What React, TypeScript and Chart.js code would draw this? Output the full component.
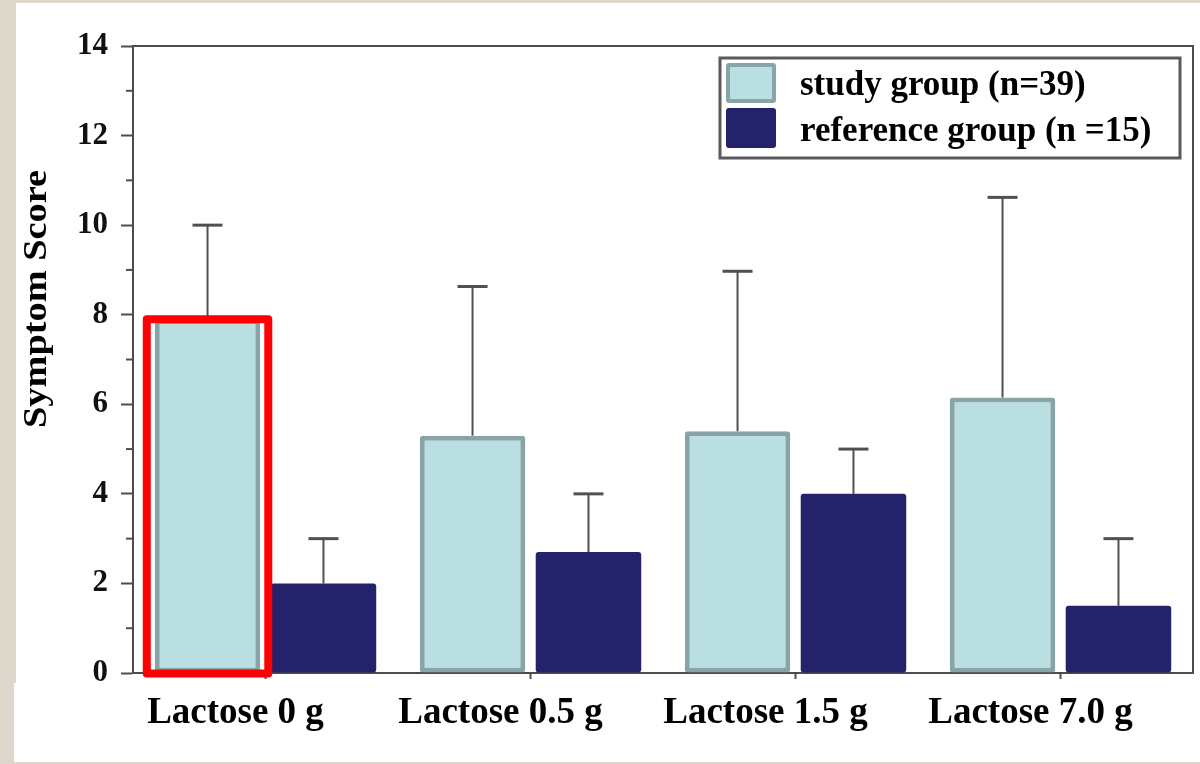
import { useEffect, useRef } from "react";
import { Chart, registerables } from "chart.js";

Chart.register(...registerables);

// Lactose dose groups on the x axis
const categories = ["Lactose 0 g", "Lactose 0.5 g", "Lactose 1.5 g", "Lactose 7.0 g"];

// Mean symptom scores and their standard deviations (upper whisker only)
const studyMeans = [7.9, 5.3, 5.4, 6.15];
const studySD = [2.1, 3.33, 3.57, 4.47];
const referenceMeans = [2.0, 2.7, 4.0, 1.5];
const referenceSD = [1.0, 1.3, 1.0, 1.5];

const seriesLabels = ["study group (n=39)", "reference group (n =15)"];
const yAxisTitle = "Symptom Score";
const yMin = 0;
const yMax = 14;
const highlightedIndex = 0;

const SERIF = "'Liberation Serif', 'Times New Roman', Times, serif";
const AXIS = "#4d4d4d";
const STUDY_FILL = "#b9dfe2";
const STUDY_EDGE = "#88a4a7";
const REF_FILL = "#23226a";

const means = [studyMeans, referenceMeans];
const sds = [studySD, referenceSD];

// upper error whiskers
const errorBars = {
  id: "errorBars",
  afterDatasetsDraw(chart: any) {
    const { ctx } = chart;
    const yScale = chart.scales.y;
    ctx.save();
    ctx.strokeStyle = "#505050";
    means.forEach((series, d) => {
      const meta = chart.getDatasetMeta(d);
      meta.data.forEach((bar: any, i: number) => {
        const { x, y } = bar.getProps(["x", "y"], true);
        const top = yScale.getPixelForValue(series[i] + sds[d][i]);
        ctx.lineWidth = 2;
        ctx.beginPath();
        ctx.moveTo(x, y);
        ctx.lineTo(x, top);
        ctx.stroke();
        ctx.lineWidth = 3;
        ctx.beginPath();
        ctx.moveTo(x - 15, top);
        ctx.lineTo(x + 15, top);
        ctx.stroke();
      });
    });
    ctx.restore();
  },
};

// frame, minor ticks, highlight, legend and rotated axis title
const decorations = {
  id: "decorations",
  afterDraw(chart: any) {
    const { ctx, chartArea } = chart;
    const { left, right, top, bottom } = chartArea;
    const yScale = chart.scales.y;
    ctx.save();

    // top and right frame lines
    ctx.strokeStyle = AXIS;
    ctx.lineWidth = 2;
    ctx.beginPath();
    ctx.moveTo(left, top);
    ctx.lineTo(right, top);
    ctx.lineTo(right, bottom);
    ctx.stroke();

    // minor ticks on odd values
    ctx.lineWidth = 2;
    for (let v = yMin + 1; v < yMax; v += 2) {
      const py = yScale.getPixelForValue(v);
      ctx.beginPath();
      ctx.moveTo(left - 7, py);
      ctx.lineTo(left, py);
      ctx.stroke();
    }

    // red outline around the highlighted study bar
    const bar: any = chart.getDatasetMeta(0).data[highlightedIndex];
    if (bar) {
      const { x, y, base, width } = bar.getProps(["x", "y", "base", "width"], true);
      ctx.strokeStyle = "#ff0000";
      ctx.lineWidth = 8;
      ctx.lineJoin = "round";
      ctx.beginPath();
      ctx.rect(x - width / 2 - 8, y, width + 16, base + 1 - y);
      ctx.stroke();
    }

    // legend box
    const bw = 460;
    const bh = 100;
    const bx = right - 13 - bw;
    const by = top + 12;
    ctx.lineJoin = "miter";
    ctx.strokeStyle = "#5a5a5a";
    ctx.lineWidth = 3;
    ctx.strokeRect(bx, by, bw, bh);

    const sx = bx + 6;
    ctx.fillStyle = STUDY_EDGE;
    ctx.beginPath();
    ctx.roundRect(sx, by + 5, 50, 40, 3);
    ctx.fill();
    ctx.fillStyle = STUDY_FILL;
    ctx.fillRect(sx + 4, by + 9, 42, 32);
    ctx.fillStyle = REF_FILL;
    ctx.beginPath();
    ctx.roundRect(sx, by + 50, 50, 40, 3);
    ctx.fill();

    ctx.fillStyle = "#000";
    ctx.font = `bold 35px ${SERIF}`;
    ctx.textAlign = "left";
    ctx.textBaseline = "alphabetic";
    ctx.fillText(seriesLabels[0], bx + 80, by + 37);
    ctx.fillText(seriesLabels[1], bx + 80, by + 83);

    // y-axis title, rotated
    ctx.font = `bold 34px ${SERIF}`;
    const natural = ctx.measureText(yAxisTitle).width;
    const target = 258;
    ctx.translate(37, top + 253);
    ctx.rotate(-Math.PI / 2);
    ctx.scale(target / natural, 1);
    ctx.textAlign = "center";
    ctx.textBaseline = "middle";
    ctx.fillText(yAxisTitle, 0, 0);

    ctx.restore();
  },
};

export default function App() {
  const canvasRef = useRef<HTMLCanvasElement>(null);

  useEffect(() => {
    if (!canvasRef.current) return;
    const chart = new Chart(canvasRef.current, {
      type: "bar",
      data: {
        labels: categories,
        datasets: [
          {
            label: seriesLabels[0],
            data: studyMeans,
            backgroundColor: STUDY_FILL,
            borderColor: STUDY_EDGE,
            borderWidth: 5,
            borderRadius: 3,
            borderSkipped: false,
          },
          {
            label: seriesLabels[1],
            data: referenceMeans,
            backgroundColor: REF_FILL,
            borderWidth: 0,
            borderRadius: 3,
            borderSkipped: false,
          },
        ],
      },
      options: {
        animation: false,
        responsive: true,
        maintainAspectRatio: false,
        layout: { padding: { top: 46, right: 7, left: 0, bottom: 0 } },
        datasets: {
          bar: { categoryPercentage: 0.875, barPercentage: 0.91 },
        },
        plugins: {
          legend: { display: false },
          tooltip: { enabled: false },
        },
        scales: {
          x: {
            afterFit: (scale: any) => {
              scale.height = 91;
            },
            grid: {
              display: true,
              drawOnChartArea: false,
              offset: false,
              tickLength: 6,
              tickWidth: 2,
              tickColor: AXIS,
            },
            border: { display: true, color: AXIS, width: 2 },
            ticks: {
              color: "#000",
              font: { family: SERIF, size: 37, weight: "bold" },
              padding: 12,
              labelOffset: -30,
              maxRotation: 0,
              autoSkip: false,
            },
          },
          y: {
            min: yMin,
            max: yMax,
            afterFit: (scale: any) => {
              scale.width = 133;
            },
            grid: {
              display: true,
              drawOnChartArea: false,
              tickLength: 12,
              tickWidth: 2,
              tickColor: (ctx: any) =>
                ctx.tick && ctx.tick.value % 2 === 0 ? AXIS : "rgba(0,0,0,0)",
            },
            border: { display: true, color: AXIS, width: 2 },
            ticks: {
              stepSize: 1,
              autoSkip: false,
              color: "#111",
              font: { family: SERIF, size: 31, weight: "bold" },
              padding: 13,
              callback: (v: any) => (Number(v) % 2 === 0 ? String(v) : ""),
            },
          },
        },
      },
      plugins: [errorBars, decorations],
    });
    return () => chart.destroy();
  }, []);

  return (
    <div
      style={{
        position: "fixed",
        left: 0,
        top: 0,
        width: 1200,
        height: 764,
        background: "#ddd8cb",
        overflow: "hidden",
      }}
    >
      <div style={{ position: "absolute", left: 16, top: 3, right: 0, bottom: 2, background: "#fff" }} />
      <div style={{ position: "absolute", left: 14, top: 683, right: 0, bottom: 2, background: "#fff" }} />
      <div style={{ position: "absolute", left: 0, top: 0, width: 1200, height: 764 }}>
        <canvas ref={canvasRef} />
      </div>
    </div>
  );
}
